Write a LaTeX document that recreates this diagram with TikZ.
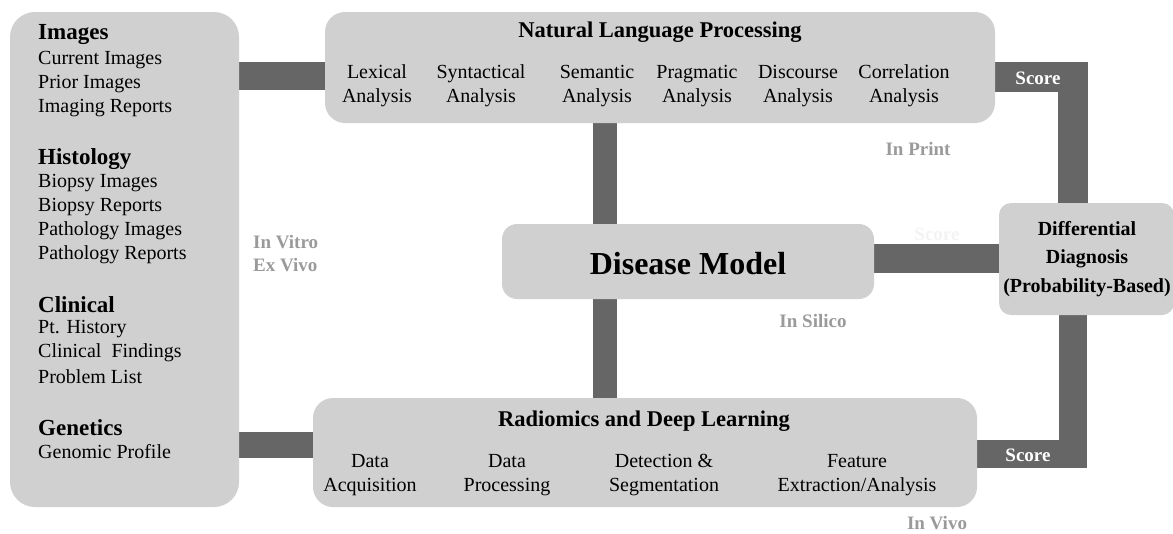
\documentclass[tikz,border=0pt]{standalone}
\usepackage{fontspec}
\setmainfont{Liberation Serif}
\usetikzlibrary{backgrounds}
\definecolor{boxgray}{HTML}{D0D0D0}
\definecolor{bargray}{HTML}{666666}
\definecolor{labgray}{HTML}{9A9A9A}
\definecolor{ghost}{HTML}{F3F3F3}
\tikzset{
  panel/.style={fill=boxgray, draw=none, rounded corners=#1, inner sep=0pt},
  panel/.default=20pt,
  bar/.style={draw=bargray, line width=#1, line join=miter},
  body/.style={font=\fontsize{20}{24}\selectfont, inner sep=0pt, text=black},
  head/.style={font=\fontsize{23}{26}\selectfont\bfseries, inner sep=0pt, text=black},
  sub/.style={font=\fontsize{20}{24}\selectfont, inner sep=0pt, align=center, text=black},
  title/.style={font=\fontsize{22.5}{26}\selectfont\bfseries, inner sep=0pt, text=black},
  where/.style={font=\fontsize{19}{23}\selectfont\bfseries, inner sep=0pt, text=labgray, align=left},
  score/.style={font=\fontsize{19}{23}\selectfont\bfseries, inner sep=0pt, text=white}
}
\begin{document}
\begin{tikzpicture}[x=1pt,y=-1pt]
\useasboundingbox (0,0) rectangle (1173,533);
% boxes
\node[panel=25pt, minimum width=229pt, minimum height=495pt] (src) at (124.5,259.5) {};
\node[panel=20pt, minimum width=670pt, minimum height=111pt] (nlp) at (660,67.5) {};
\node[panel=15pt, minimum width=372pt, minimum height=75pt] (dm) at (688,261.5) {};
\node[panel=12pt, minimum width=175pt, minimum height=112pt] (diff) at (1086.5,259) {};
\node[panel=20pt, minimum width=664pt, minimum height=109pt] (rdl) at (645,452.5) {};
\coordinate (tc) at (1072.5,77);
\coordinate (bc) at (1072.5,454);
% bars
\begin{scope}[on background layer]
\draw[bar=28pt] (src.east |- 0,76) -- (nlp.west |- 0,76);
\draw[bar=26pt] (src.east |- 0,444.5) -- (rdl.west |- 0,444.5);
\draw[bar=24pt] (nlp.south -| 605,0) -- (dm.north -| 605,0);
\draw[bar=24pt] (dm.south -| 605,0) -- (rdl.north -| 605,0);
\draw[bar=29pt] (dm.east |- 0,258.5) -- (diff.west |- 0,258.5);
\draw[bar=30pt] (nlp.east |- tc) -- (tc) -- (diff.north -| tc);
\draw[bar=28pt] (rdl.east |- bc) -- (bc) -- (diff.south -| bc);
\end{scope}
% left box text
\node[head, anchor=west] (t1) at (38,35) {Images};
\node[body, anchor=west] (t2) at (38,60) {Current Images};
\node[body, anchor=west] (t3) at (38,84) {Prior Images};
\node[body, anchor=west] (t4) at (38,108) {Imaging Reports};
\node[head, anchor=west] (t5) at (38,159) {Histology};
\node[body, anchor=west] (t6) at (38,183) {Biopsy Images};
\node[body, anchor=west] (t7) at (38,207) {Biopsy Reports};
\node[body, anchor=west] (t8) at (38,231) {Pathology Images};
\node[body, anchor=west] (t9) at (38,255) {Pathology Reports};
\node[head, anchor=west] (t10) at (38,305) {Clinical};
\node[body, anchor=west] (t11) at (38,329) {Pt. History};
\node[body, anchor=west] (t12) at (38,353) {Clinical\ \ Findings};
\node[body, anchor=west] (t13) at (38,377) {Problem List};
\node[head, anchor=west] (t14) at (38,428) {Genetics};
\node[body, anchor=west] (t15) at (38,452) {Genomic Profile};
% NLP
\node[title] (nt) at (660,32) {Natural Language Processing};
\node[sub] (n1) at (377,86) {Lexical\\Analysis};
\node[sub] (n2) at (481,86) {Syntactical\\Analysis};
\node[sub] (n3) at (597,86) {Semantic\\Analysis};
\node[sub] (n4) at (697,86) {Pragmatic\\Analysis};
\node[sub] (n5) at (798,86) {Discourse\\Analysis};
\node[sub] (n6) at (904,86) {Correlation\\Analysis};
% RDL
\node[title] (rt) at (644,421) {Radiomics and Deep Learning};
\node[sub] (r1) at (370,475) {Data\\Acquisition};
\node[sub] (r2) at (507,475) {Data\\Processing};
\node[sub] (r3) at (664,475) {Detection \&\\Segmentation};
\node[sub] (r4) at (857,475) {Feature\\Extraction/Analysis};
% Disease model
\node[font=\fontsize{32}{36}\selectfont\bfseries, inner sep=0pt] (dmt) at (688,264) {Disease Model};
% Differential
\node[font=\fontsize{20}{28.5}\selectfont\bfseries, align=center, inner sep=0pt] (dft) at (1087,259) {Differential\\Diagnosis\\(Probability-Based)};
% scores
\node[score] (s1) at (1038,78) {Score};
\node[score] (s2) at (1028,455) {Score};
\node[font=\fontsize{19}{23}\selectfont\bfseries, inner sep=0pt, text=ghost] (s3) at (937,234) {Score};
% location labels
\node[where, anchor=west] (w1) at (253,254) {In Vitro\\Ex Vivo};
\node[where] (w2) at (918,149) {In Print};
\node[where] (w3) at (813,321) {In Silico};
\node[where] (w4) at (937,523) {In Vivo};
\end{tikzpicture}
\end{document}
